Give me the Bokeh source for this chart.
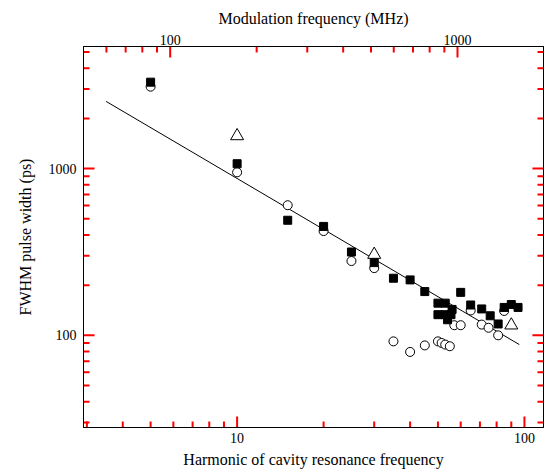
from bokeh.plotting import figure
from bokeh.models import LogAxis, FixedTicker, PrintfTickFormatter, Range1d
from bokeh.embed import file_html
from bokeh.resources import INLINE

# ---- data ----
sq_harm = [5, 10, 15, 20, 25, 30, 35, 40, 45, 50, 53, 56, 50, 53, 55.5, 54,
           60, 65, 71, 76, 81, 85, 90, 95]
sq_fwhm = [3300, 1070, 490, 450, 316, 273, 220, 215, 183, 156, 156, 143, 133, 133, 133, 124,
           181, 152, 144, 131, 117, 147, 153, 147]
ci_harm = [5, 10, 15, 20, 25, 30, 35, 40, 45, 50, 51.5, 53, 55, 57, 60, 65, 71, 75, 81, 85]
ci_fwhm = [3100, 950, 603, 422, 279, 253, 92, 79.5, 87, 92, 90, 88, 86, 115, 115, 141, 116, 111, 100, 140]
tr_harm = [10, 30, 90]
tr_fwhm = [1570, 305, 115]
fit_harm = [3.5, 96]
fit_fwhm = [2530, 88]

F0_MHZ = 17.1
x_lo, x_hi = 2.92, 116.5
y_lo, y_hi = 28, 5400

bottom_major = [10, 100]
bottom_minor = [3, 4, 5, 6, 7, 8, 9, 20, 30, 40, 50, 60, 70, 80, 90]
top_major = [100, 1000]
top_minor = [60, 70, 80, 90, 200, 300, 400, 500, 600, 700, 800, 900]
y_major = [100, 1000]
y_minor = [30, 40, 50, 60, 70, 80, 90, 200, 300, 400, 500, 600, 700, 800, 900, 2000, 3000, 4000, 5000]

FONT = "Liberation Serif"
MAJ_LEN = 11
MIN_LEN = 6
FRAME_W, FRAME_H = 458, 381
TICK_COLOR = "red"

p = figure(width=546, height=473, x_axis_type="log", y_axis_type="log",
           x_range=Range1d(x_lo, x_hi), y_range=Range1d(y_lo, y_hi),
           output_backend="svg", toolbar_location=None,
           min_border_left=83, min_border_top=46, min_border_right=3, min_border_bottom=46)
p.grid.visible = False
p.outline_line_color = "black"
p.background_fill_color = None
p.border_fill_color = "white"
p.extra_x_ranges = {"mhz": Range1d(x_lo * F0_MHZ, x_hi * F0_MHZ)}

def style(ax, labels=True):
    ax.axis_line_color = "black"
    ax.major_tick_in = 0
    ax.major_tick_out = 0
    ax.minor_tick_in = 0
    ax.minor_tick_out = 0
    ax.major_label_text_font = FONT
    ax.major_label_text_font_size = "14px" if labels else "1px"
    ax.major_label_text_color = "black"
    ax.axis_label_text_font = FONT
    ax.axis_label_text_font_size = "16px"
    ax.axis_label_text_font_style = "normal"
    ax.axis_label_text_color = "black"
    if not labels:
        ax.major_label_text_alpha = 0

xa = p.xaxis[0]
xa.ticker = FixedTicker(ticks=bottom_major, minor_ticks=bottom_minor)
xa.formatter = PrintfTickFormatter(format="%d")
xa.axis_label = "Harmonic of cavity resonance frequency"
style(xa)
xa.major_label_standoff = 5
xa.axis_label_standoff = 5

ya = p.yaxis[0]
ya.ticker = FixedTicker(ticks=y_major, minor_ticks=y_minor)
ya.formatter = PrintfTickFormatter(format="%d")
ya.axis_label = "FWHM pulse width (ps)"
style(ya)
ya.major_label_standoff = 7
ya.axis_label_standoff = 12

top = LogAxis(x_range_name="mhz", ticker=FixedTicker(ticks=top_major, minor_ticks=top_minor),
              formatter=PrintfTickFormatter(format="%d"), axis_label="Modulation frequency (MHz)")
style(top)
top.major_label_standoff = 2
top.axis_label_standoff = 5
p.add_layout(top, "above")

right = LogAxis(ticker=FixedTicker(ticks=y_major, minor_ticks=y_minor),
                formatter=PrintfTickFormatter(format="%d"))
style(right, labels=False)
right.major_label_standoff = 0
p.add_layout(right, "right")

def xfac(px):
    return (x_hi / x_lo) ** (px / FRAME_W)

def yfac(px):
    return (y_hi / y_lo) ** (px / FRAME_H)

def ticks_y(vals, length):
    n = len(vals)
    f = xfac(length)
    p.segment(x0=[x_lo] * n, y0=vals, x1=[x_lo * f] * n, y1=vals,
              line_color=TICK_COLOR, line_width=2)
    p.segment(x0=[x_hi] * n, y0=vals, x1=[x_hi / f] * n, y1=vals,
              line_color=TICK_COLOR, line_width=2)

def ticks_x(vals, length, edge_lo=True, range_name="default"):
    n = len(vals)
    f = yfac(length)
    if edge_lo:
        p.segment(x0=vals, y0=[y_lo] * n, x1=vals, y1=[y_lo * f] * n,
                  line_color=TICK_COLOR, line_width=2, x_range_name=range_name)
    else:
        p.segment(x0=vals, y0=[y_hi] * n, x1=vals, y1=[y_hi / f] * n,
                  line_color=TICK_COLOR, line_width=2, x_range_name=range_name)

ticks_y(y_major, MAJ_LEN)
ticks_y(y_minor, MIN_LEN)
ticks_x(bottom_major, MAJ_LEN)
ticks_x(bottom_minor, MIN_LEN)
ticks_x(top_major, MAJ_LEN, edge_lo=False, range_name="mhz")
ticks_x(top_minor, MIN_LEN, edge_lo=False, range_name="mhz")

p.line(fit_harm, fit_fwhm, line_color="black", line_width=1)
p.scatter(ci_harm, ci_fwhm, marker="circle", size=9, fill_color="white", line_color="black", line_width=1)
p.scatter(sq_harm, sq_fwhm, marker="square", size=8, fill_color="black", line_color="black")
p.scatter(tr_harm, tr_fwhm, marker="triangle", size=13, fill_color="white", line_color="black", line_width=1)

open("out.html", "w").write(file_html(p, INLINE))
